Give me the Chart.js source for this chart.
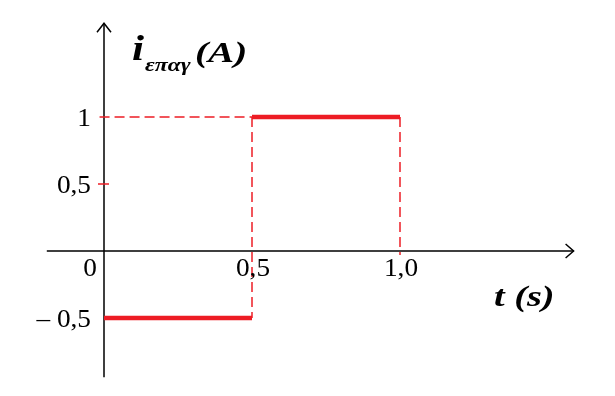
<!DOCTYPE html>
<html>
<head>
<meta charset="utf-8">
<script src="https://cdn.jsdelivr.net/npm/chart.js@4"></script>
<style>
  html, body { margin: 0; padding: 0; background: #fff; }
  #wrap { width: 615px; height: 396px; }
</style>
</head>
<body>
<div id="wrap"><canvas id="chart" width="615" height="396"></canvas></div>
<script>
// time breakpoints (s) and induced current level (A) on each interval
const tBreaks = [0, 0.5, 1.0];
const currentLevels = [-0.5, 1];

const xTickValues = [0.5, 1.0];
const xTickLabels = ['0,5', '1,0'];
const yTickValues = [1, 0.5, -0.5];
const yTickLabels = ['1', '0,5', '\u2013 0,5'];
const originLabel = '0';

const RED = '#ed1c24';
const SERIF = '"Liberation Serif", "Times New Roman", serif';

function stretchedText(ctx, text, x, y, font, align, sx) {
  ctx.save();
  ctx.translate(x, y);
  ctx.scale(sx, 1);
  ctx.font = font;
  ctx.textAlign = align;
  ctx.fillText(text, 0, 0);
  ctx.restore();
}

// axes with arrows, ticks and labels drawn against the chart's scales
const axesPlugin = {
  id: 'axes',
  beforeDatasetsDraw(chart) {
    const ctx = chart.ctx;
    const xs = chart.scales.x, ys = chart.scales.y;
    const a = chart.chartArea;
    const x0 = xs.getPixelForValue(0), y0 = ys.getPixelForValue(0);
    ctx.save();
    ctx.strokeStyle = '#000';
    ctx.lineWidth = 1.5;
    ctx.beginPath();
    ctx.moveTo(x0, a.bottom - 1); ctx.lineTo(x0, a.top);
    ctx.moveTo(a.left + 2, y0); ctx.lineTo(a.right - 4, y0);
    ctx.stroke();
    // arrow heads
    ctx.beginPath();
    ctx.moveTo(x0 - 7, a.top + 9); ctx.lineTo(x0, a.top); ctx.lineTo(x0 + 7, a.top + 9);
    ctx.moveTo(a.right - 12, y0 - 7); ctx.lineTo(a.right - 4, y0); ctx.lineTo(a.right - 12, y0 + 7);
    ctx.stroke();
    // small red tick at 0,5
    ctx.strokeStyle = RED;
    ctx.lineWidth = 1.5;
    const yh = ys.getPixelForValue(0.5);
    ctx.beginPath();
    ctx.moveTo(x0 - 6, yh); ctx.lineTo(x0 + 5, yh);
    ctx.stroke();
    ctx.restore();
  },
  afterDatasetsDraw(chart) {
    const ctx = chart.ctx;
    const xs = chart.scales.x, ys = chart.scales.y;
    const x0 = xs.getPixelForValue(0), y0 = ys.getPixelForValue(0);
    ctx.save();
    ctx.fillStyle = '#000';
    ctx.textBaseline = 'middle';
    const tickFont = '26px ' + SERIF;
    yTickValues.forEach((v, i) => {
      stretchedText(ctx, yTickLabels[i], x0 - 13, ys.getPixelForValue(v) + 2, tickFont, 'right', 1.05);
    });
    xTickValues.forEach((v, i) => {
      stretchedText(ctx, xTickLabels[i], xs.getPixelForValue(v) + 1, y0 + 18, tickFont, 'center', 1.05);
    });
    stretchedText(ctx, originLabel, x0 - 14, y0 + 18, tickFont, 'center', 1.05);

    // axis titles
    ctx.textBaseline = 'alphabetic';
    stretchedText(ctx, 'i', 132, 60, 'bold italic 36px ' + SERIF, 'left', 1.2);
    stretchedText(ctx, '\u03b5\u03c0\u03b1\u03b3', 145, 71, 'bold italic 19px ' + SERIF, 'left', 1.25);
    stretchedText(ctx, '(A)', 195, 62, 'bold italic 29px ' + SERIF, 'left', 1.35);
    stretchedText(ctx, 't (s)', 494, 306, 'bold italic 29px ' + SERIF, 'left', 1.32);
    ctx.restore();
  }
};

const levelSets = currentLevels.map((v, i) => ({
  data: [{ x: tBreaks[i], y: v }, { x: tBreaks[i + 1], y: v }],
  borderColor: RED,
  borderWidth: 4.5,
  borderCapStyle: 'butt',
  pointRadius: 0,
  order: 0
}));

const dash = { borderColor: RED, borderWidth: 1.5, borderDash: [10, 5], pointRadius: 0, order: 1 };
const guideSets = [
  { ...dash, data: [{ x: -0.015, y: currentLevels[1] }, { x: tBreaks[1], y: currentLevels[1] }] },
  { ...dash, data: [{ x: tBreaks[1], y: currentLevels[1] }, { x: tBreaks[1], y: currentLevels[0] }] },
  { ...dash, data: [{ x: tBreaks[2], y: currentLevels[1] }, { x: tBreaks[2], y: -0.03 }] }
];

new Chart(document.getElementById('chart'), {
  type: 'line',
  data: { datasets: [...guideSets, ...levelSets] },
  options: {
    responsive: false,
    devicePixelRatio: 1,
    animation: false,
    layout: { padding: { left: 44.8, right: 37.4, top: 23.2, bottom: 17.7 } },
    plugins: { legend: { display: false }, tooltip: { enabled: false } },
    scales: {
      x: { type: 'linear', min: -0.2, max: 1.6, display: false },
      y: { type: 'linear', min: -0.95, max: 1.7, display: false }
    }
  },
  plugins: [axesPlugin]
});
</script>
</body>
</html>
